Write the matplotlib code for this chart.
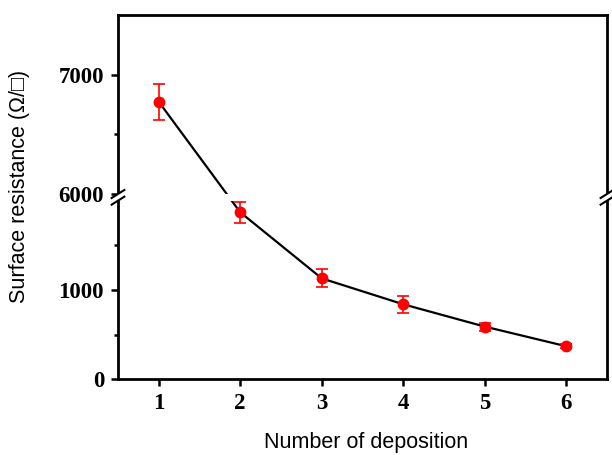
import numpy as np
import matplotlib.pyplot as plt
from matplotlib.patches import Polygon

# data
deposition = [1, 2, 3, 4, 5, 6]
resistance = [6775, 1870, 1130, 840, 590, 370]
resistance_err = [150, 115, 100, 95, 45, 20]

y_major = [0, 1000, 6000, 7000]
y_minor = [500, 1500, 6500]

# broken y axis: 0-2000 below, 6000-7500 above
Y_KNOTS = [0, 2000, 6000, 7500]
T_KNOTS = [0, 178.6, 185.3, 363.8]


def fwd(y):
    return np.interp(y, Y_KNOTS, T_KNOTS)


def inv(t):
    return np.interp(t, T_KNOTS, Y_KNOTS)


fig = plt.figure(figsize=(6.12, 4.55), dpi=100)
ax = fig.add_axes([0.1928, 0.1664, 0.799, 0.7996])
ax.set_yscale('function', functions=(fwd, inv))
ax.set_xlim(0.5, 6.5)
ax.set_ylim(0, 7500)

ax.plot(deposition, resistance, color='black', lw=1.6, zorder=2)
ax.errorbar(deposition, resistance, yerr=resistance_err, fmt='o', color='red',
            ms=7.5, capsize=4, elinewidth=1.2, capthick=1.2, zorder=4)

# gap in the line at the break
ax.axhspan(Y_KNOTS[1], Y_KNOTS[2], color='white', zorder=2.6, lw=0)

ax.set_yticks(y_major)
ax.set_yticks(y_minor, minor=True)
ax.set_xticks(deposition)

for s in ax.spines.values():
    s.set_linewidth(2)
ax.tick_params(axis='both', which='major', direction='out', length=5, width=1.8, pad=5)
ax.tick_params(axis='y', which='minor', direction='out', length=3, width=1.8)
ax.tick_params(axis='x', which='minor', bottom=False)
for lab in ax.get_xticklabels() + ax.get_yticklabels():
    lab.set_family('Liberation Serif')
    lab.set_fontweight('bold')
    lab.set_fontsize(16.5)

lab_font = dict(family=['Liberation Sans', 'DejaVu Sans'], fontsize=15.5)
ax.set_xlabel('Number of deposition', **lab_font)
ax.set_ylabel('Surface resistance (\u03a9/\u25a1)', **lab_font)
ax.xaxis.set_label_coords(0.507, -0.145)
ax.yaxis.set_label_coords(-0.18, 0.53)

# break marks on both spines
lo = fwd(Y_KNOTS[1]) / fwd(7500)
hi = fwd(Y_KNOTS[2]) / fwd(7500)
d, s = 0.013, 0.011
for x0 in (0, 1):
    poly = Polygon([(x0 - d, lo - s), (x0 + d, lo + s), (x0 + d, hi + s), (x0 - d, hi - s)],
                   closed=True, transform=ax.transAxes, facecolor='white',
                   edgecolor='none', clip_on=False, zorder=5)
    ax.add_patch(poly)
    for yy in (lo, hi):
        ax.plot([x0 - d, x0 + d], [yy - s, yy + s], color='black', lw=1.5,
                transform=ax.transAxes, clip_on=False, zorder=6)

fig.savefig('out.png', dpi=100)
